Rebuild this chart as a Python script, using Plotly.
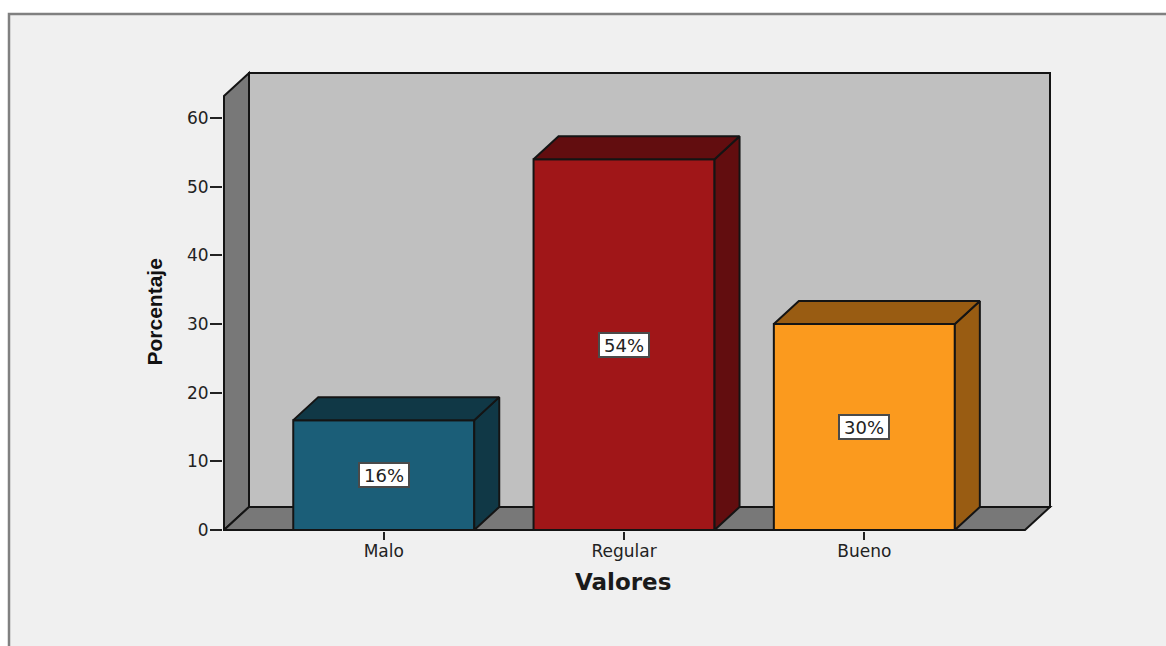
import plotly.graph_objects as go

categories = ["Malo", "Regular", "Bueno"]
percentages = [16, 54, 30]
value_labels = ["16%", "54%", "30%"]
front_colors = ["#1b5e78", "#a01618", "#fb9a1e"]
shade_colors = ["#103846", "#620d0f", "#995c12"]
y_ticks = [0, 10, 20, 30, 40, 50, 60]

W, H = 1166, 646
L, R, T, B = 223, 1053, 70, 531      # plot area in pixels
X0, XS = 383.75, 240.3               # pixel of category 0, pixels per category
Y0, YS = 530.0, 6.867                # pixel of value 0, pixels per value unit
DX, DY = 25 / XS, 23 / YS            # 3-D depth in axis units
BAR = 181 / XS
XMIN, XMAX = (L - X0) / XS, (R - X0) / XS
YMIN, YMAX = (Y0 - B) / YS, (Y0 - T) / YS
FL, FR = (224 - X0) / XS, (1025 - X0) / XS   # front plane edges
YTOP = (Y0 - 96) / YS                        # top of front plane
EDGE = "#141414"


def px(x):
    return (x - L) / (R - L)


def py(y):
    return (B - y) / (B - T)


def poly(xs, ys):
    return "M" + " L".join(f"{a},{b}" for a, b in zip(xs, ys)) + " Z"


wall_line = dict(color=EDGE, width=2)
shapes = [
    dict(type="rect", xref="paper", yref="paper", x0=px(9), x1=px(W + 20), y0=py(14), y1=py(H + 20),
         fillcolor="#f0f0f0", line=dict(color="#808080", width=2.5), layer="below"),
    dict(type="path", path=poly([FL + DX, FR + DX, FR + DX, FL + DX], [DY, DY, YTOP + DY, YTOP + DY]),
         fillcolor="#c0c0c0", line=wall_line, layer="below"),
    dict(type="path", path=poly([FL, FL + DX, FL + DX, FL], [0, DY, YTOP + DY, YTOP]),
         fillcolor="#787878", line=wall_line, layer="below"),
    dict(type="path", path=poly([FL, FR, FR + DX, FL + DX], [0, 0, DY, DY]),
         fillcolor="#787878", line=wall_line, layer="below"),
]

fig = go.Figure()
idx = list(range(len(categories)))

fig.add_trace(go.Bar(
    x=idx, y=percentages, width=BAR, marker=dict(color=front_colors, line=dict(color=EDGE, width=2)),
    showlegend=False, hoverinfo="skip",
))

for i, v, c in zip(idx, percentages, shade_colors):
    a, b = i - BAR / 2, i + BAR / 2
    fig.add_trace(go.Scatter(
        x=[b, b + DX, b + DX, b, b], y=[0, DY, v + DY, v, 0], mode="lines", fill="toself",
        fillcolor=c, line=dict(color=EDGE, width=2), showlegend=False, hoverinfo="skip",
    ))
    fig.add_trace(go.Scatter(
        x=[a, b, b + DX, a + DX, a], y=[v, v, v + DY, v + DY, v], mode="lines", fill="toself",
        fillcolor=c, line=dict(color=EDGE, width=2), showlegend=False, hoverinfo="skip",
    ))

annotations = [
    dict(x=i, y=v / 2, text=t, showarrow=False, bgcolor="white", bordercolor="#4a4a4a", borderwidth=2,
         width=46, height=20, font=dict(family="DejaVu Sans", size=18, color="#222222"))
    for i, v, t in zip(idx, percentages, value_labels)
]
annotations += [
    dict(xref="paper", yref="paper", x=px(622.5), y=py(582), text="<b>Valores</b>", showarrow=False,
         xanchor="center", yanchor="middle",
         font=dict(family="DejaVu Sans", size=23, color="#1a1a1a")),
    dict(xref="paper", yref="paper", x=px(154), y=py(312.5), text="<b>Porcentaje</b>", showarrow=False,
         xanchor="center", yanchor="middle", textangle=-90,
         font=dict(family="Liberation Sans", size=21, color="#111111")),
]

fig.update_layout(
    width=W, height=H, autosize=False,
    margin=dict(l=L, r=W - R, t=T, b=H - B, pad=0),
    paper_bgcolor="white", plot_bgcolor="rgba(0,0,0,0)",
    shapes=shapes, annotations=annotations,
    xaxis=dict(range=[XMIN, XMAX], tickmode="array", tickvals=idx, ticktext=categories,
               ticks="outside", ticklen=8, tickwidth=2, tickcolor="#222222", showgrid=False,
               zeroline=False, showline=False, ticklabelstandoff=-3,
               tickfont=dict(family="DejaVu Sans", size=17, color="#222222")),
    yaxis=dict(range=[YMIN, YMAX], tickmode="array", tickvals=y_ticks,
               ticks="outside", ticklen=12, tickwidth=2, tickcolor="#222222", showgrid=False,
               zeroline=False, showline=False, ticklabelstandoff=-2,
               tickfont=dict(family="DejaVu Sans", size=17, color="#222222")),
)

fig.write_html("out.html", config=dict(displayModeBar=False),
               post_script="document.body.style.margin='0';document.documentElement.style.overflow='hidden';")
